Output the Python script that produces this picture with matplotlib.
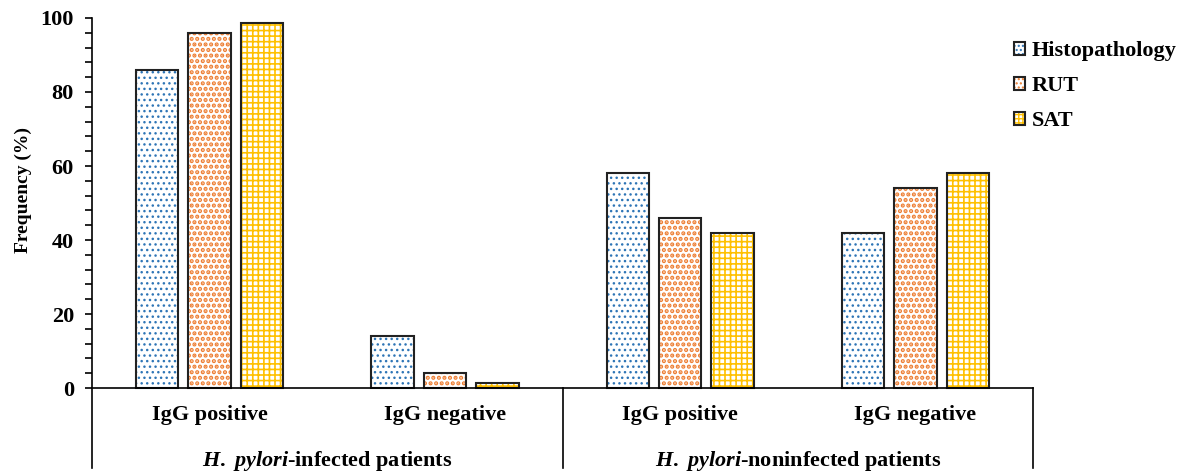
import matplotlib
matplotlib.use("Agg")
import numpy as np
import matplotlib.pyplot as plt
from matplotlib.patches import Patch
from matplotlib.legend_handler import HandlerTuple

plt.rcParams['font.family'] = ['Liberation Serif', 'DejaVu Serif']
plt.rcParams['font.weight'] = 'bold'
plt.rcParams['mathtext.fontset'] = 'custom'
plt.rcParams['mathtext.it'] = 'Liberation Serif:italic:bold'
plt.rcParams['mathtext.rm'] = 'Liberation Serif:bold'
plt.rcParams['mathtext.bf'] = 'Liberation Serif:bold'

# data
categories = ['IgG positive', 'IgG negative', 'IgG positive', 'IgG negative']
groups = ['infected patients', 'noninfected patients']
histopathology = [86.0, 14.0, 58.1, 41.9]
rut = [95.9, 4.1, 45.9, 54.1]
sat = [98.6, 1.4, 41.8, 58.2]

series = [
    ('Histopathology', histopathology, '#2E75B6', '...', 1.0),
    ('RUT', rut, '#ED7D31', '...', 2.1),
    ('SAT', sat, '#FFC000', '+++', 1.2),
]

fig = plt.figure(figsize=(11.83, 4.72), dpi=100)
ax = fig.add_axes([0.0778, 0.0085, 0.7954, 0.9534])

x = np.arange(len(categories))
w = 0.18
offs = [-0.223, 0, 0.223]

handles = []
for (name, vals, col, hatch, hlw), off in zip(series, offs):
    with plt.rc_context({'hatch.linewidth': hlw}):
        b = ax.bar(x + off, vals, w, color='white', edgecolor=col, hatch=hatch, linewidth=0, zorder=2)
        h = Patch(facecolor='white', edgecolor=col, hatch=hatch + hatch[0], linewidth=0)
        for p in list(b) + [h]:
            try:
                p.set_hatch_linewidth(hlw)
            except AttributeError:
                pass
    ax.bar(x + off, vals, w, fill=False, edgecolor='#222222', linewidth=1.5, zorder=3)
    handles.append((h, Patch(fill=False, edgecolor='#222222', linewidth=1.5)))

ax.set_xlim(-0.5, 3.5)
ax.set_ylim(-21.6, 100)
for s in ['top', 'right', 'bottom']:
    ax.spines[s].set_visible(False)
ax.spines['left'].set_linewidth(1.2)
ax.spines['left'].set_bounds(-21.6, 100)

ax.set_yticks(np.arange(0, 101, 20))
ax.set_yticks(np.arange(0, 101, 4), minor=True)
ax.tick_params(axis='y', which='both', direction='out', length=5, width=1.2, labelsize=16, pad=8)
ax.set_xticks([])
for lab in ax.get_yticklabels():
    lab.set_fontweight('bold')

ax.set_ylabel('Frequency (%)', fontsize=14, fontweight='bold')
ax.yaxis.set_label_coords(-0.064, 0.618)

# x axis line and separators
ax.plot([-0.5, 3.5], [0, 0], color='black', lw=1.2, clip_on=False, zorder=4)
for xs in [1.5, 3.5]:
    ax.plot([xs, xs], [0, -21.6], color='black', lw=1.2, clip_on=False)

for xi, c in zip(x, categories):
    ax.text(xi, -7.3, c, ha='center', va='center', fontsize=16, fontweight='bold')
for gi, g in enumerate(groups):
    ax.text(0.5 + 2 * gi, -19.6, r'$\it{H.}$ $\it{pylori}$-' + g, ha='center', va='center',
            fontsize=16, fontweight='bold')

leg = fig.legend([tuple(h) for h in handles], [s[0] for s in series],
                 handler_map={tuple: HandlerTuple(ndivide=1)},
                 loc='upper left', bbox_to_anchor=(0.840, 0.955), frameon=False,
                 fontsize=16, handlelength=0.5, handleheight=0.5, handletextpad=0.3,
                 labelspacing=0.68)
for t in leg.get_texts():
    t.set_fontweight('bold')

fig.savefig('out.png', dpi=100)
